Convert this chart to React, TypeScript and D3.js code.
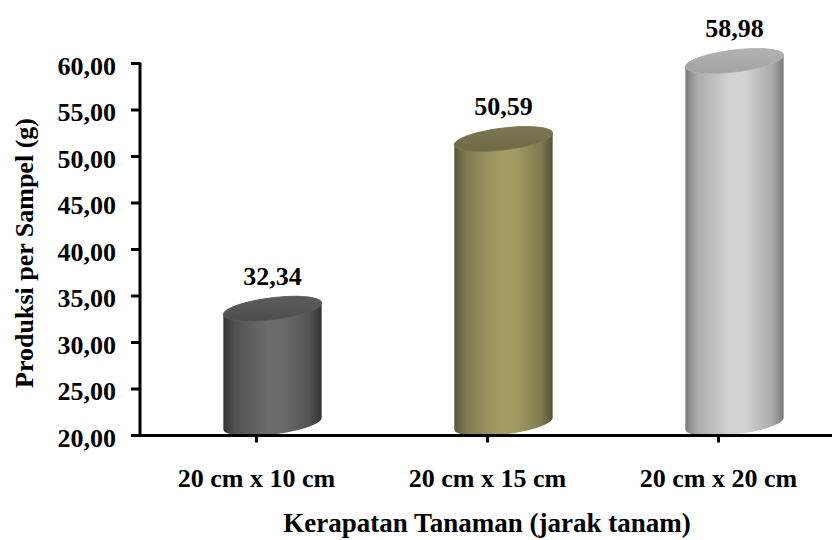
import React from "react";
import * as d3 from "d3";

const categories = ["20 cm x 10 cm", "20 cm x 15 cm", "20 cm x 20 cm"];
const values = [32.34, 50.59, 58.98];
const yTicks = [20, 25, 30, 35, 40, 45, 50, 55, 60];
const xTitle = "Kerapatan Tanaman (jarak tanam)";
const yTitle = "Produksi per Sampel (g)";

const palettes = [
  { edge: "#333333", mid: "#6b6b6b", top: "#4d4d4d", topLight: "#5c5c5c" },
  { edge: "#55513a", mid: "#a39d64", top: "#6e6946", topLight: "#7c7750" },
  { edge: "#7a7a7a", mid: "#d3d3d3", top: "#a2a2a2", topLight: "#b2b2b2" },
];

const W = 832;
const H = 540;
const FONT = "'Liberation Serif', 'Times New Roman', serif";

const fmt = (v: number) => v.toFixed(2).replace(".", ",");

function ellipsePoints(cx: number, cy: number, rx: number, ry: number, th: number, t0: number, t1: number, n = 60) {
  const pts: [number, number][] = [];
  for (let i = 0; i <= n; i++) {
    const t = t0 + ((t1 - t0) * i) / n;
    pts.push([
      cx + rx * Math.cos(t) * Math.cos(th) - ry * Math.sin(t) * Math.sin(th),
      cy + rx * Math.cos(t) * Math.sin(th) + ry * Math.sin(t) * Math.cos(th),
    ]);
  }
  return pts;
}

export default function App() {
  const y = d3.scaleLinear().domain([20, 60]).range([435.5, 63.5]);
  const x = d3.scaleBand<string>().domain(categories).range([141, 834]).padding(0);
  const dx = 16;
  const dy = -12;
  const rx = 49.5;
  const ry = 11;
  const th = (-7 * Math.PI) / 180;
  const line = d3.line();
  const tExt = Math.atan2(-ry * Math.sin(th), rx * Math.cos(th));

  const axisY = y(20);
  const axisX0 = 140;

  return (
    <svg width={W} height={H} style={{ position: "absolute", left: 0, top: 0, background: "#fff" }}>
      <defs>
        {palettes.map((p, i) => (
          <React.Fragment key={i}>
            <linearGradient id={`body${i}`} x1="0" x2="1" y1="0" y2="0">
              <stop offset="0" stopColor={p.edge} />
              <stop offset="0.12" stopColor={d3.interpolateRgb(p.edge, p.mid)(0.55)} />
              <stop offset="0.45" stopColor={p.mid} />
              <stop offset="0.6" stopColor={p.mid} />
              <stop offset="0.88" stopColor={d3.interpolateRgb(p.edge, p.mid)(0.55)} />
              <stop offset="1" stopColor={p.edge} />
            </linearGradient>
            <linearGradient id={`top${i}`} x1="0" x2="0" y1="0" y2="1">
              <stop offset="0" stopColor={p.topLight} />
              <stop offset="1" stopColor={p.top} />
            </linearGradient>
          </React.Fragment>
        ))}
      </defs>

      {categories.map((c, i) => {
        const cx = (x(c) as number) + x.bandwidth() / 2 + dx;
        const cyTop = y(values[i]) + dy;
        const cyBot = y(20) + dy;
        const bottomFront = ellipsePoints(cx, cyBot, rx, ry, th, tExt, tExt + Math.PI);
        const topBack = ellipsePoints(cx, cyTop, rx, ry, th, tExt + Math.PI, tExt + 2 * Math.PI);
        const bodyPts = [...bottomFront, ...topBack];
        const topPts = ellipsePoints(cx, cyTop, rx, ry, th, 0, 2 * Math.PI, 80);
        return (
          <g key={c}>
            <path d={(line(bodyPts) as string) + "Z"} fill={`url(#body${i})`} />
            <path d={(line(topPts) as string) + "Z"} fill={`url(#top${i})`} stroke={palettes[i].topLight} strokeWidth={0.8} />
            <text
              x={cx}
              y={y(values[i]) - 36}
              textAnchor="middle"
              fontFamily={FONT}
              fontWeight="bold"
              fontSize={26}
              fill="#000"
            >
              {fmt(values[i])}
            </text>
          </g>
        );
      })}

      <line x1={axisX0} x2={axisX0} y1={y(60) - 1} y2={axisY + 1.5} stroke="#000" strokeWidth={3} />
      {yTicks.map((t) => (
        <g key={t}>
          <line x1={131} x2={axisX0} y1={y(t)} y2={y(t)} stroke="#000" strokeWidth={3} />
          <text
            x={116}
            y={y(t) + 11}
            textAnchor="end"
            fontFamily={FONT}
            fontWeight="bold"
            fontSize={26}
            fill="#000"
          >
            {fmt(t)}
          </text>
        </g>
      ))}

      <line x1={axisX0 - 1.5} x2={W} y1={axisY} y2={axisY} stroke="#000" strokeWidth={3} />
      {categories.map((c) => {
        const cx = (x(c) as number) + x.bandwidth() / 2;
        return (
          <g key={c}>
            <line x1={cx} x2={cx} y1={axisY} y2={axisY + 7} stroke="#000" strokeWidth={3} />
            <text x={cx} y={487} textAnchor="middle" fontFamily={FONT} fontWeight="bold" fontSize={26} fill="#000">
              {c}
            </text>
          </g>
        );
      })}

      <text x={487} y={532} textAnchor="middle" fontFamily={FONT} fontWeight="bold" fontSize={27} fill="#000">
        {xTitle}
      </text>
      <text
        transform={`translate(33, 253) rotate(-90)`}
        textAnchor="middle"
        fontFamily={FONT}
        fontWeight="bold"
        fontSize={26}
        fill="#000"
      >
        {yTitle}
      </text>
    </svg>
  );
}
